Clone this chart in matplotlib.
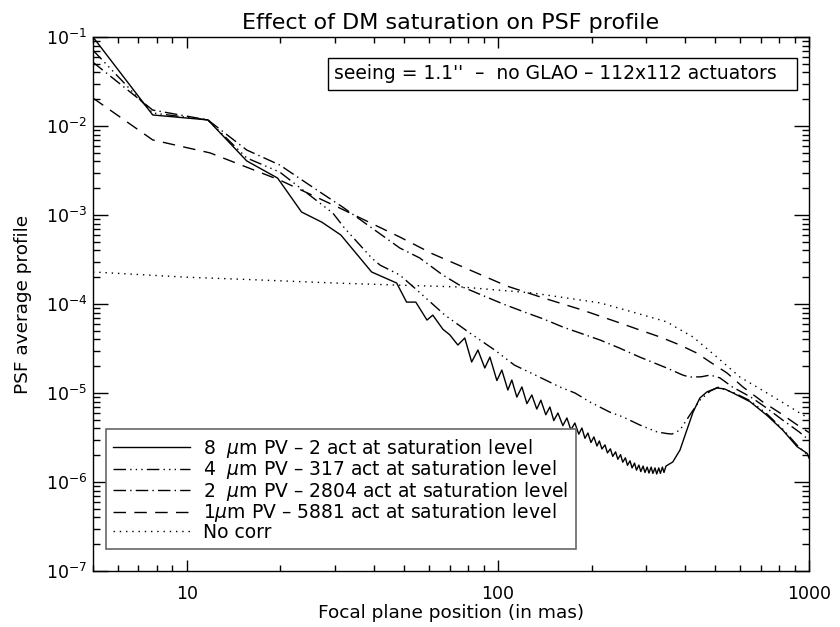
import matplotlib
matplotlib.use("Agg")
import matplotlib.pyplot as plt
from matplotlib import ticker
from matplotlib.patches import Rectangle

# --- PSF radial profiles (focal plane position in mas, normalised intensity) ---

# 8 um PV stroke - 2 actuators saturated
x_8um = [5, 7.78, 11.7, 15.6, 19.6, 23.4, 27.2, 31.3, 39.3, 47.3, 50.9, 54.5, 59.2, 61.8,
         66.6, 70.1, 74.4, 78.3, 82.4, 86.3,
         90.8, 94.3, 99.3, 103.0, 107.7, 110.9, 115.1, 119.5, 124.0, 128.6, 133.4, 137.5,
         142.6, 147.0, 151.3, 156.0, 161.8, 166.7, 171.7, 176.8, 182.0, 186.3, 190.5, 194.8,
         199.2, 203.6, 208.2, 212, 216, 221, 225, 230, 234, 239, 243, 248, 252, 257, 261,
         266, 270, 275, 279, 284, 288, 293, 297, 302, 306, 311, 315, 320, 324, 329, 333,
         338, 342, 347,
         365, 385, 405, 424, 446, 470, 506, 536, 570, 646, 733, 825, 915, 986, 1000]
y_8um = [1.0e-1, 1.33e-2, 1.17e-2, 4.05e-3, 2.6e-3, 1.08e-3, 8.3e-4, 5.96e-4, 2.29e-4, 1.72e-4,
         1.05e-4, 1.05e-4, 6.6e-5, 7.5e-5, 5.2e-5, 4.5e-5, 3.46e-5, 4.15e-5, 2.23e-5, 3.04e-5,
         1.91e-5, 2.53e-5, 1.38e-5, 1.81e-5, 1.08e-5, 1.40e-5, 9.0e-6, 1.17e-5, 7.6e-6, 9.5e-6,
         6.6e-6, 8.3e-6, 5.7e-6, 6.96e-6, 4.9e-6, 5.96e-6, 4.3e-6, 5.24e-6, 3.85e-6, 4.6e-6,
         3.45e-6, 4.04e-6, 3.1e-6, 3.55e-6, 2.78e-6, 3.21e-6, 2.54e-6, 2.89e-6, 2.35e-6, 2.61e-6,
         2.12e-6, 2.36e-6, 1.94e-6, 2.18e-6, 1.80e-6, 2.03e-6, 1.67e-6, 1.87e-6, 1.54e-6, 1.73e-6,
         1.44e-6, 1.63e-6, 1.36e-6, 1.55e-6, 1.31e-6, 1.51e-6, 1.28e-6, 1.47e-6, 1.26e-6, 1.47e-6,
         1.25e-6, 1.44e-6, 1.23e-6, 1.44e-6, 1.25e-6, 1.47e-6, 1.28e-6, 1.51e-6,
         1.68e-6, 2.29e-6, 3.84e-6, 6.1e-6, 8.8e-6, 1.03e-5, 1.14e-5, 1.11e-5, 1.0e-5, 8.0e-6,
         5.6e-6, 3.8e-6, 2.5e-6, 2.1e-6, 1.86e-6]

# 4 um PV stroke - 317 actuators saturated
x_4um = [5, 7.78, 11.7, 15.6, 19.9, 29.5, 32.2, 39.3, 41.8, 48.4, 54.9, 67.6, 81.3, 97.7, 113,
         132, 158, 177, 198, 229, 252, 286, 325, 350, 363, 385, 414, 446, 481, 510, 570, 646,
         733, 825, 915, 1000]
y_4um = [7.1e-2, 1.40e-2, 1.17e-2, 4.37e-3, 3.04e-3, 1.05e-3, 7.1e-4, 3.29e-4, 2.74e-4, 2.12e-4,
         1.44e-4, 7.5e-5, 4.72e-5, 3.04e-5, 2.06e-5, 1.59e-5, 1.17e-5, 1.0e-5, 7.9e-6, 6.1e-6,
         5.4e-6, 4.37e-6, 3.65e-6, 3.5e-6, 3.46e-6, 3.84e-6, 5.66e-6, 8.3e-6, 1.05e-5, 1.16e-5,
         1.02e-5, 8.2e-6, 5.8e-6, 3.9e-6, 2.6e-6, 1.95e-6]

# 2 um PV stroke - 2804 actuators saturated
x_2um = [5, 7.78, 11.7, 15.6, 19.9, 26.2, 31.7, 48.4, 56.1, 66.5, 77.1, 88.8, 104, 122, 140,
         162, 213, 246, 286, 349, 393, 413, 450, 481, 517, 567, 650, 730, 822, 930, 1000]
y_2um = [5.2e-2, 1.51e-2, 1.17e-2, 5.37e-3, 3.65e-3, 1.91e-3, 1.23e-3, 4.26e-4, 3.29e-4, 2.12e-4,
         1.55e-4, 1.26e-4, 1.0e-4, 8.1e-5, 6.8e-5, 5.5e-5, 3.94e-5, 3.2e-5, 2.53e-5, 1.91e-5,
         1.59e-5, 1.51e-5, 1.52e-5, 1.59e-5, 1.48e-5, 1.17e-5, 9.0e-6, 6.8e-6, 4.98e-6, 3.65e-6,
         2.96e-6]

# 1 um PV stroke - 5881 actuators saturated
x_1um = [5, 7.78, 11.9, 19.9, 31.0, 48.4, 61.8, 81.3, 107, 140, 186, 241, 286, 332, 385, 436,
         481, 545, 613, 712, 807, 915, 1000]
y_1um = [2.06e-2, 6.97e-3, 4.98e-3, 2.47e-3, 1.20e-3, 5.66e-4, 3.65e-4, 2.41e-4, 1.59e-4,
         1.17e-4, 8.6e-5, 6.3e-5, 5.1e-5, 4.26e-5, 3.46e-5, 2.81e-5, 2.23e-5, 1.68e-5, 1.17e-5,
         7.9e-6, 5.96e-6, 4.4e-6, 3.6e-6]

# no AO correction
x_nocorr = [5, 10, 16, 30, 48, 77, 129, 213, 272, 349, 376, 424, 506, 600, 733, 850, 957, 1000]
y_nocorr = [2.29e-4, 2.0e-4, 1.88e-4, 1.72e-4, 1.63e-4, 1.55e-4, 1.33e-4, 1.03e-4, 8.1e-5, 6.3e-5,
            5.4e-5, 4.26e-5, 2.53e-5, 1.51e-5, 1.0e-5, 7.3e-6, 5.66e-6, 5.2e-6]

labels = [
    "8  $\\mu$m PV \u2013 2 act at saturation level",
    "4  $\\mu$m PV \u2013 317 act at saturation level",
    "2  $\\mu$m PV \u2013 2804 act at saturation level",
    "1$\\mu$m PV \u2013 5881 act at saturation level",
    "No corr",
]
x_ticks = [10, 100, 1000]
y_ticks = [1e-7, 1e-6, 1e-5, 1e-4, 1e-3, 1e-2, 1e-1]

plt.rcParams["font.family"] = ["DejaVu Sans"]
plt.rcParams["mathtext.fontset"] = "dejavusans"

fig = plt.figure(figsize=(8.4, 6.27), dpi=100)
ax = fig.add_axes([0.1107, 0.0893, 0.8524, 0.8517])

lw = 1.0
ax.plot(x_8um, y_8um, color="black", lw=lw, ls="-", label=labels[0])
ax.plot(x_4um, y_4um, color="black", lw=lw, ls=(0, (9, 3, 1, 3, 1, 3, 1, 3)), label=labels[1])
ax.plot(x_2um, y_2um, color="black", lw=lw, ls=(0, (9, 3, 1, 3)), label=labels[2])
ax.plot(x_1um, y_1um, color="black", lw=lw, ls=(0, (9, 6)), label=labels[3])
ax.plot(x_nocorr, y_nocorr, color="black", lw=lw, ls=(0, (1, 3.5)), label=labels[4])

ax.set_xscale("log")
ax.set_yscale("log")
ax.set_xlim(5, 1000)
ax.set_ylim(1e-7, 1e-1)

ax.xaxis.set_major_locator(ticker.FixedLocator(x_ticks))
ax.xaxis.set_major_formatter(ticker.FuncFormatter(lambda v, _: f"{v:g}"))
ax.xaxis.set_minor_formatter(ticker.NullFormatter())
ax.yaxis.set_major_locator(ticker.FixedLocator(y_ticks))
ax.yaxis.set_major_formatter(ticker.LogFormatterSciNotation())
ax.yaxis.set_minor_locator(ticker.LogLocator(base=10, subs=range(2, 10), numticks=20))
ax.yaxis.set_minor_formatter(ticker.NullFormatter())

ax.tick_params(axis="both", which="both", direction="in", top=True, right=True,
               width=1.0, colors="black", labelsize=12.5)
ax.tick_params(axis="x", which="major", length=8, pad=10)
ax.tick_params(axis="x", which="minor", length=4)
ax.tick_params(axis="y", which="major", length=11, pad=4)
ax.tick_params(axis="y", which="minor", length=5)
for s in ax.spines.values():
    s.set_linewidth(1.0)

ax.set_title("Effect of DM saturation on PSF profile", fontsize=16, pad=6)
ax.set_xlabel("Focal plane position (in mas)", fontsize=13.3, labelpad=1)
ax.set_ylabel("PSF average profile", fontsize=13.3, labelpad=10)

# info box at the top of the plot
ax.add_patch(Rectangle((0.328, 0.901), 0.655, 0.060, transform=ax.transAxes,
                       fill=False, edgecolor="black", lw=1.0))
ax.text(0.337, 0.931, "seeing = 1.1''  \u2013  no GLAO \u2013 112x112 actuators",
        transform=ax.transAxes, ha="left", va="center", fontsize=13.5)

leg = ax.legend(loc="lower left", bbox_to_anchor=(0.018, 0.041), fontsize=13.5,
                frameon=True, fancybox=False, framealpha=1, edgecolor="0.4",
                handlelength=4.1, handletextpad=0.7, labelspacing=-0.08,
                borderpad=0.4, borderaxespad=0)
leg.get_frame().set_linewidth(1.2)

fig.savefig("out.png", dpi=100)
